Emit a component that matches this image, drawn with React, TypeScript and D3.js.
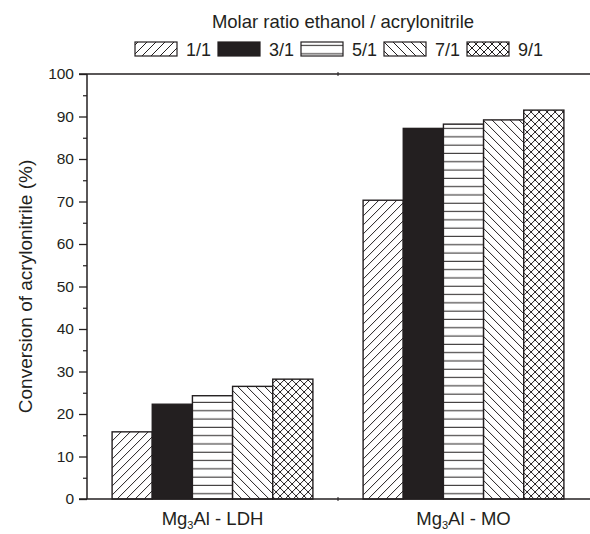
import React, { useEffect, useRef } from 'react';
import * as d3 from 'd3';

const groups = ['LDH', 'MO'];
const series = ['1/1', '3/1', '5/1', '7/1', '9/1'];
const ldhValues = [15.8, 22.3, 24.3, 26.5, 28.2];
const moValues = [70.3, 87.2, 88.2, 89.2, 91.5];
const yTicks = [0, 10, 20, 30, 40, 50, 60, 70, 80, 90, 100];

const INK = '#231f20';
const FONT = '"Liberation Sans", Arial, sans-serif';

export default function App() {
  const svgRef = useRef<SVGSVGElement>(null);

  useEffect(() => {
    if (!svgRef.current) return;
    const svg = d3.select(svgRef.current);
    svg.selectAll('*').remove();

    const left = 87;
    const right = 589;
    const top = 74;
    const bottom = 499;

    // Patterns
    const defs = svg.append('defs');
    const mk = (id: string, w: number, h: number) =>
      defs.append('pattern')
        .attr('id', id)
        .attr('patternUnits', 'userSpaceOnUse')
        .attr('width', w)
        .attr('height', h);

    const p0 = mk('p0', 9, 9);
    p0.append('rect').attr('width', 9).attr('height', 9).attr('fill', '#fff');
    p0.append('path').attr('d', 'M-1,1 l2,-2 M0,9 l9,-9 M8,10 l2,-2')
      .attr('stroke', INK).attr('stroke-width', 1);

    const p2 = mk('p2', 8, 8.3);
    p2.append('rect').attr('width', 8).attr('height', 8.3).attr('fill', '#fff');
    p2.append('path').attr('d', 'M0,4 H8').attr('stroke', INK).attr('stroke-width', 1);

    const p3 = mk('p3', 9, 9);
    p3.append('rect').attr('width', 9).attr('height', 9).attr('fill', '#fff');
    p3.append('path').attr('d', 'M-1,8 l2,2 M0,0 l9,9 M8,-1 l2,2')
      .attr('stroke', INK).attr('stroke-width', 1);

    const p4 = mk('p4', 8, 8);
    p4.append('rect').attr('width', 8).attr('height', 8).attr('fill', '#fff');
    p4.append('path').attr('d', 'M-1,1 l2,-2 M0,8 l8,-8 M7,9 l2,-2 M-1,7 l2,2 M0,0 l8,8 M7,-1 l2,2')
      .attr('stroke', INK).attr('stroke-width', 1);

    const fills = ['url(#p0)', INK, 'url(#p2)', 'url(#p3)', 'url(#p4)'];

    // Scales
    const x0 = d3.scaleBand<string>().domain(groups).range([left, right])
      .paddingInner(0.2).paddingOuter(0.1);
    const x1 = d3.scaleBand<string>().domain(series).range([0, x0.bandwidth()]);
    const y = d3.scaleLinear().domain([0, 100]).range([bottom, top]);

    const values: Record<string, number[]> = { LDH: ldhValues, MO: moValues };

    // Bars
    groups.forEach(gname => {
      const g = svg.append('g').attr('transform', `translate(${x0(gname)},0)`);
      g.selectAll('rect')
        .data(values[gname])
        .enter()
        .append('rect')
        .attr('x', (_d, i) => x1(series[i]) || 0)
        .attr('y', d => y(d))
        .attr('width', x1.bandwidth())
        .attr('height', d => bottom - y(d))
        .attr('fill', (_d, i) => fills[i])
        .attr('stroke', INK)
        .attr('stroke-width', 1.4);
    });

    // Axes lines
    svg.append('line').attr('x1', left - 8).attr('x2', 590).attr('y1', bottom).attr('y2', bottom)
      .attr('stroke', INK).attr('stroke-width', 1.5);
    svg.append('line').attr('x1', left - 8).attr('x2', 590).attr('y1', top).attr('y2', top)
      .attr('stroke', INK).attr('stroke-width', 1.5);
    svg.append('line').attr('x1', left).attr('x2', left).attr('y1', top).attr('y2', bottom)
      .attr('stroke', INK).attr('stroke-width', 1.5);

    // Y axis
    const yAxis = d3.axisLeft(y).tickValues(yTicks).tickSize(8).tickPadding(5);
    const ya = svg.append('g').attr('transform', `translate(${left},0)`).call(yAxis);
    ya.select('.domain').remove();
    ya.selectAll('.tick line').attr('stroke', INK).attr('stroke-width', 1.3);
    ya.selectAll('.tick text')
      .attr('fill', INK)
      .style('font-family', FONT)
      .style('font-size', '15.5px');

    const minor = d3.axisLeft(y).tickValues(yTicks.slice(0, -1).map(v => v + 5)).tickSize(4).tickFormat(() => '');
    const ym = svg.append('g').attr('transform', `translate(${left},0)`).call(minor);
    ym.select('.domain').remove();
    ym.selectAll('.tick line').attr('stroke', INK).attr('stroke-width', 1.2);

    // small tick at group boundary
    const boundary = (x0(groups[1]) || 0) - x0.step() * x0.paddingInner() / 2;
    [top, bottom].forEach(yy => {
      svg.append('line').attr('x1', boundary).attr('x2', boundary).attr('y1', yy - 2).attr('y2', yy + 2)
        .attr('stroke', INK).attr('stroke-width', 1);
    });

    // X labels
    groups.forEach(gname => {
      const t = svg.append('text')
        .attr('x', (x0(gname) || 0) + x0.bandwidth() / 2)
        .attr('y', 525)
        .attr('text-anchor', 'middle')
        .attr('fill', INK)
        .style('font-family', FONT)
        .style('font-size', '18.5px');
      t.append('tspan').text('Mg');
      t.append('tspan').attr('dy', 4).style('font-size', '11px').text('3');
      t.append('tspan').attr('dy', -4).text('Al - ' + gname);
    });

    // Y title
    svg.append('text')
      .attr('transform', `translate(32,${(top + bottom) / 2}) rotate(-90)`)
      .attr('text-anchor', 'middle')
      .attr('fill', INK)
      .style('font-family', FONT)
      .style('font-size', '19px')
      .text('Conversion of acrylonitrile (%)');

    // Legend
    svg.append('text')
      .attr('x', 343)
      .attr('y', 28)
      .attr('text-anchor', 'middle')
      .attr('fill', INK)
      .style('font-family', FONT)
      .style('font-size', '18.5px')
      .text('Molar ratio ethanol / acrylonitrile');

    const lx = d3.scaleBand<string>().domain(series).range([135, 550]);
    series.forEach((s, i) => {
      const gx = lx(s) || 0;
      svg.append('rect')
        .attr('x', gx).attr('y', 42).attr('width', 42).attr('height', 14)
        .attr('fill', fills[i]).attr('stroke', INK).attr('stroke-width', 1.2);
      svg.append('text')
        .attr('x', gx + 51).attr('y', 56)
        .attr('fill', INK)
        .style('font-family', FONT)
        .style('font-size', '18px')
        .text(s);
    });
  }, []);

  return (
    <svg
      ref={svgRef}
      width={590}
      height={534}
      style={{ position: 'absolute', left: 0, top: 0, background: '#fff' }}
    />
  );
}
